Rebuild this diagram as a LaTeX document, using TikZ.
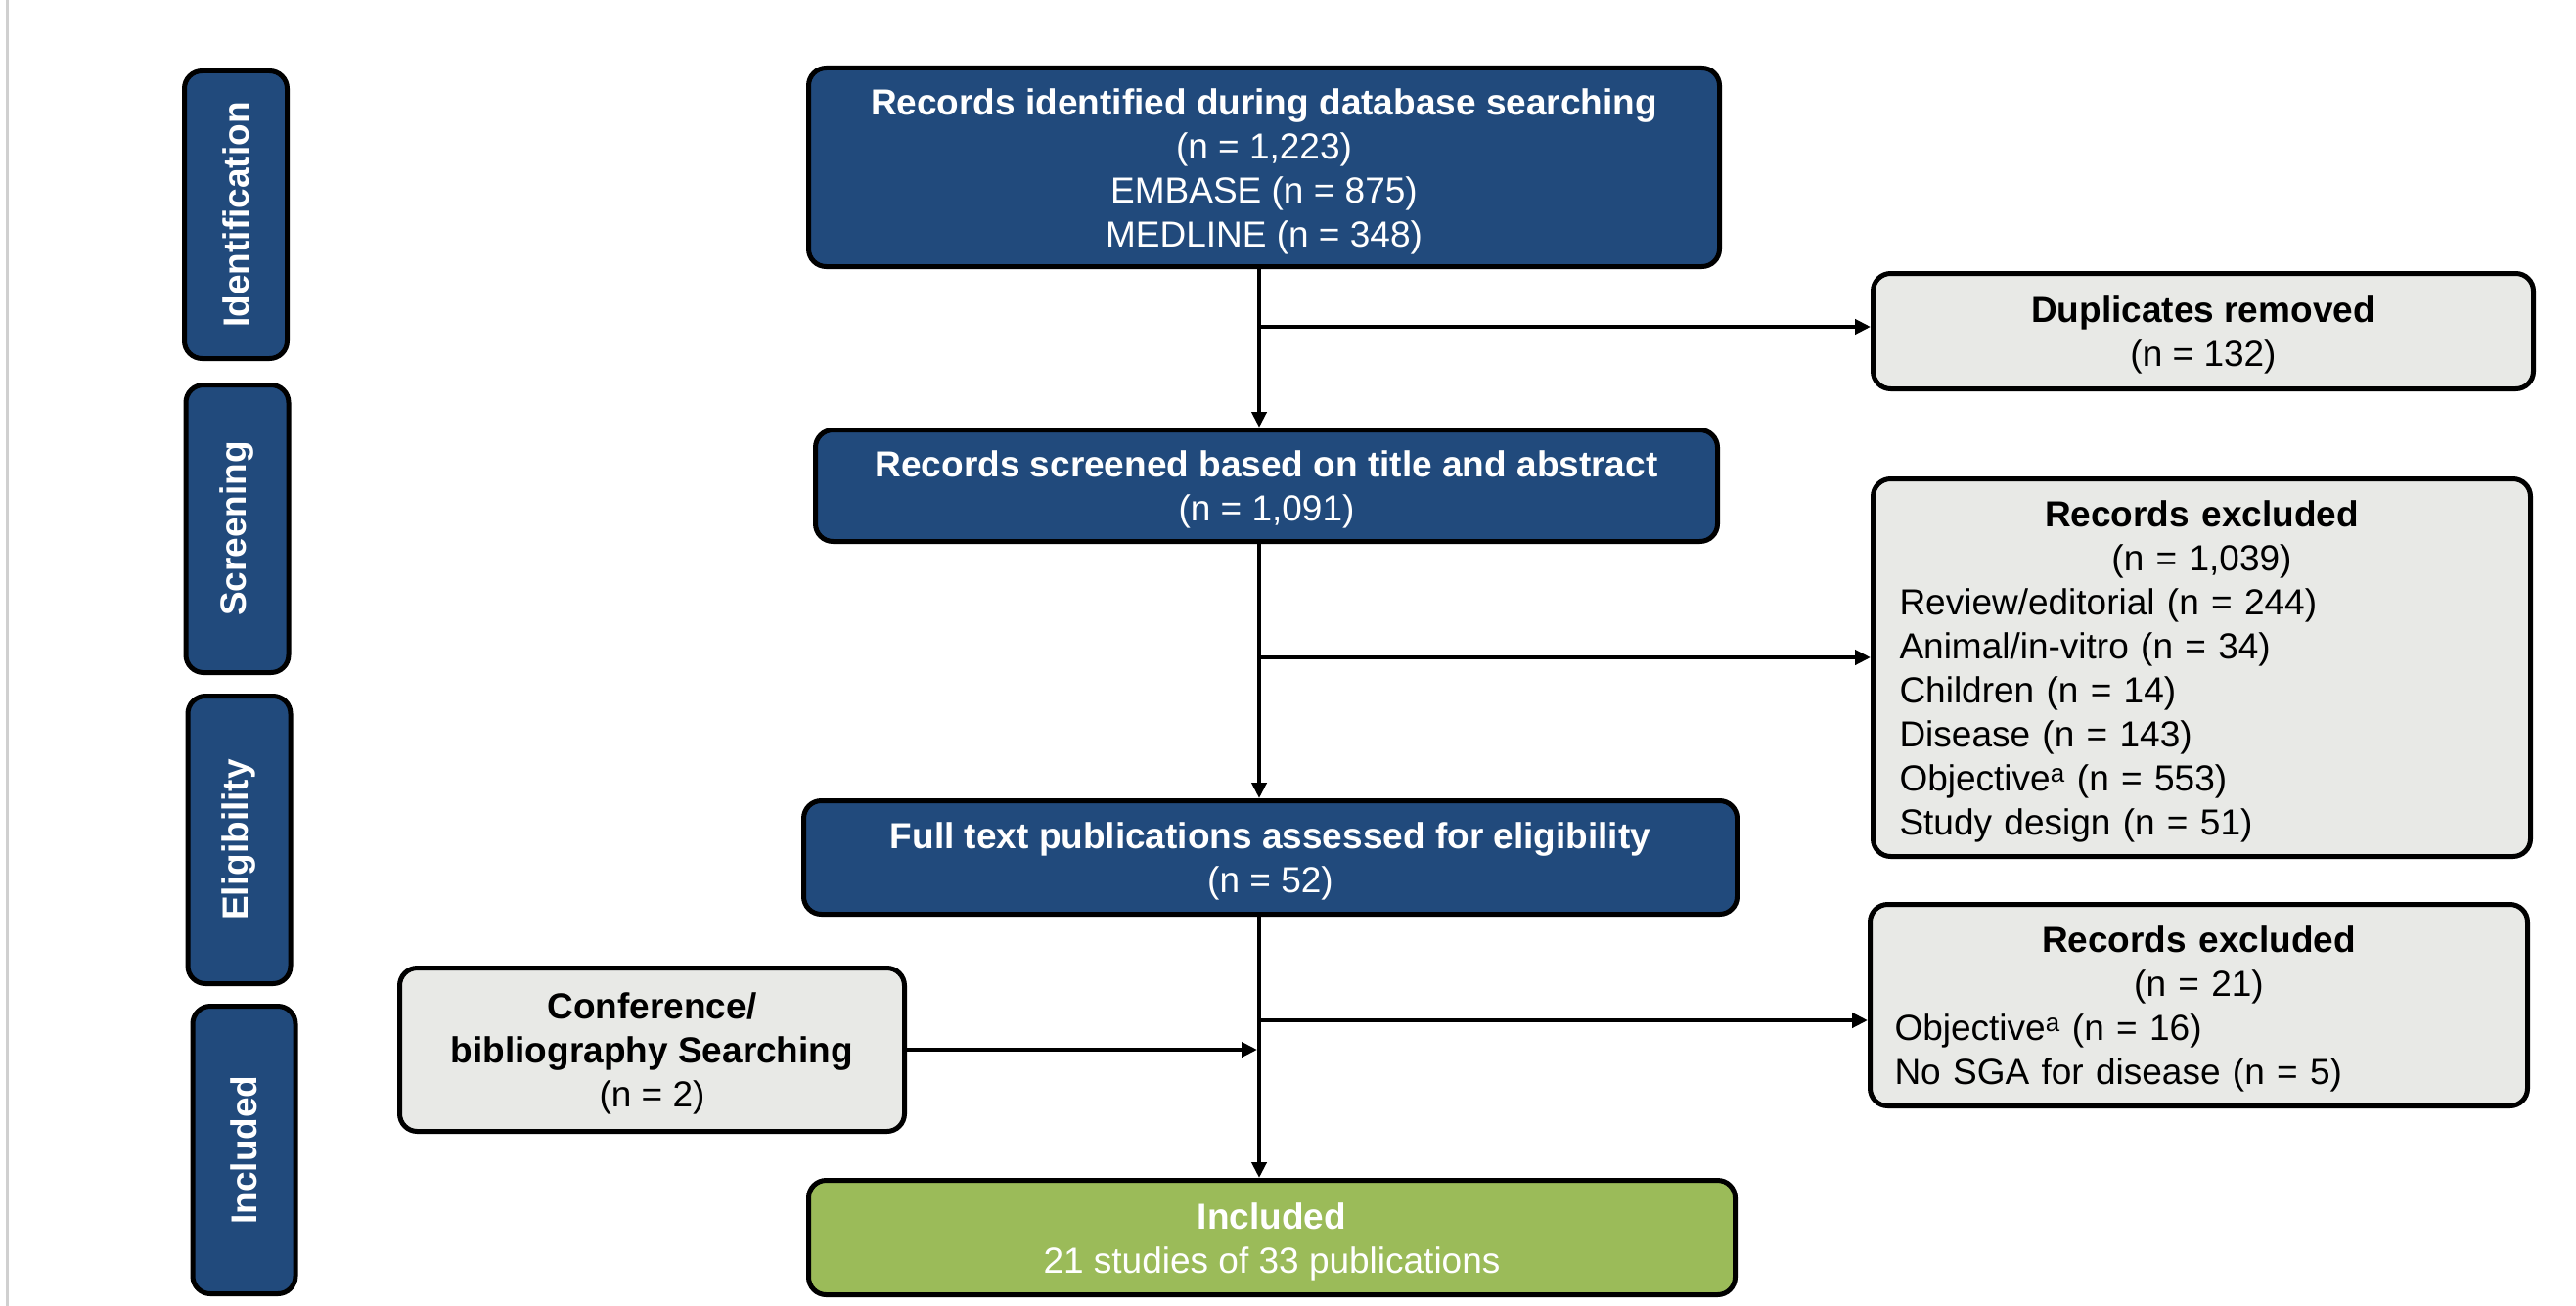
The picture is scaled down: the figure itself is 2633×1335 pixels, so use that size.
\documentclass[tikz,border=0pt]{standalone}
\usepackage{fontspec}
\setmainfont{Liberation Sans}
\usetikzlibrary{arrows.meta}
\setlength{\parindent}{0pt}
\definecolor{pblue}{HTML}{214A7C}
\definecolor{pgray}{HTML}{E8E9E6}
\definecolor{pgreen}{HTML}{9BBB59}
\definecolor{pline}{HTML}{D0D0D0}
\newcommand\topfix{\rule{0pt}{35pt}}
\begin{document}
\begin{tikzpicture}[x=1pt,y=-1pt,
  box/.style={draw=black, line width=5pt, rounded corners=18pt, inner sep=0pt, align=center, font=\fontsize{37}{45}\selectfont},
  bluebox/.style={box, fill=pblue, text=white},
  graybox/.style={box, fill=pgray, text=black},
  greenbox/.style={box, fill=pgreen, text=white},
  sidebox/.style={box, fill=pblue, text=white, minimum width=105, minimum height=294, font=\fontsize{37}{45}\selectfont\bfseries},
  arr/.style={line width=4pt, -{Triangle[length=16pt,width=15pt]}},
  conn/.style={line width=4pt}]
\useasboundingbox (0,0) rectangle (2633,1335);
\fill[white] (0,0) rectangle (2633,1335);
\draw[pline, line width=3pt] (7,0) -- (7,1335);

% side labels
\node[sidebox] (sid) at (241,219.5) {\rotatebox{90}{Identification}};
\node[sidebox] (ssc) at (242.5,540.5) {\rotatebox{90}{Screening}};
\node[sidebox] (sel) at (244.5,858.5) {\rotatebox{90}{Eligibility}};
\node[sidebox] (sin) at (249.5,1175.5) {\rotatebox{90}{Included}};

% main boxes
\node[bluebox, minimum width=931, minimum height=203] (b1) at (1292,171)
  {\topfix\textbf{Records identified during database searching}\\(n = 1,223)\\EMBASE (n = 875)\\MEDLINE (n = 348)};
\node[bluebox, minimum width=922, minimum height=114] (b2) at (1294.5,496.5)
  {\topfix\textbf{Records screened based on title and abstract}\\(n = 1,091)};
\node[bluebox, minimum width=954, minimum height=116] (b3) at (1298.5,876.5)
  {\topfix\textbf{Full text publications assessed for eligibility}\\(n = 52)};
\node[greenbox, minimum width=947, minimum height=117] (b4) at (1300,1265)
  {\topfix\textbf{Included}\\21 studies of 33 publications};

\node[graybox, minimum width=516, minimum height=167] (conf) at (666.5,1073)
  {\topfix\textbf{Conference/}\\\textbf{bibliography Searching}\\(n = 2)};
\node[graybox, minimum width=675, minimum height=118] (dup) at (2252,338.5)
  {\topfix\textbf{Duplicates removed}\\(n = 132)};
\node[graybox, minimum width=672, minimum height=386, text width=618] (ex1) at (2250.5,682.5)
  {\centering\topfix\textbf{Records excluded}\\(n = 1,039)\par
   \raggedright Review/editorial (n = 244)\\Animal/in-vitro (n = 34)\\Children (n = 14)\\Disease (n = 143)\\Objective\textsuperscript{a} (n = 553)\\Study design (n = 51)\par};
\node[graybox, minimum width=672, minimum height=206, text width=622] (ex2) at (2247.5,1027.5)
  {\centering\topfix\textbf{Records excluded}\\(n = 21)\par
   \raggedright Objective\textsuperscript{a} (n = 16)\\No SGA for disease (n = 5)\par};

% connectors
\coordinate (vx) at (1287,0);
\coordinate (j1) at (1287,334);
\coordinate (j2) at (1287,672);
\coordinate (j3) at (1287,1043);
\draw[arr] (b1.south -| vx) -- (b2.north -| vx);
\draw[arr] (b2.south -| vx) -- (b3.north -| vx);
\draw[arr] (b3.south -| vx) -- (b4.north -| vx);
\draw[arr] (j1) -- (j1 -| dup.west);
\draw[arr] (j2) -- (j2 -| ex1.west);
\draw[arr] (j3) -- (j3 -| ex2.west);
\draw[arr] (conf.east) -- ([xshift=-2pt]conf.east -| vx);
\end{tikzpicture}
\end{document}
